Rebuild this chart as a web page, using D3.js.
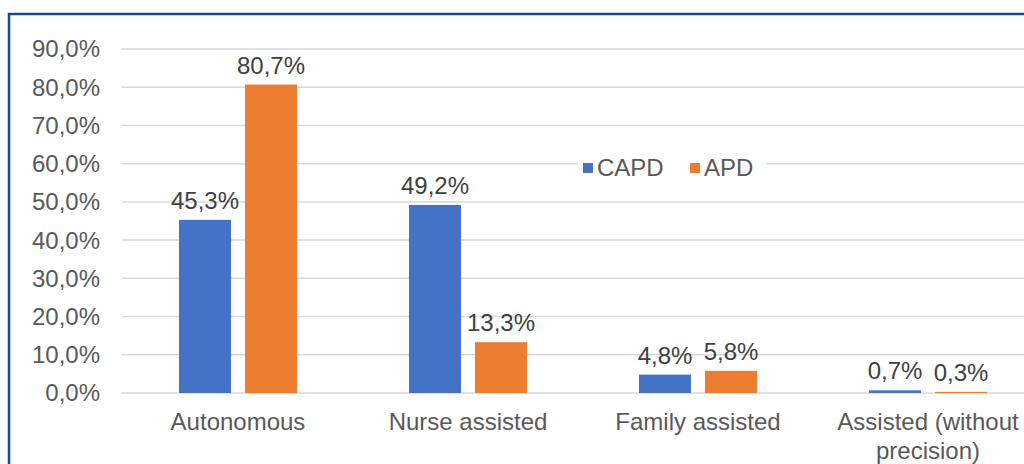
<!DOCTYPE html>
<html>
<head>
<meta charset="utf-8">
<script src="https://cdn.jsdelivr.net/npm/d3@7"></script>
<style>
  body { margin: 0; background: #fff; }
  svg { display: block; font-family: "Liberation Sans", Arial, sans-serif; }
</style>
</head>
<body>
<div id="chart"></div>
<script>
const categories = [["Autonomous"], ["Nurse assisted"], ["Family assisted"], ["Assisted (without", "precision)"]];
const seriesNames = ["CAPD", "APD"];
const capd = [45.3, 49.2, 4.8, 0.7];
const apd = [80.7, 13.3, 5.8, 0.3];
const yTicks = [0, 10, 20, 30, 40, 50, 60, 70, 80, 90];
const colors = ["#4472c4", "#ed7d31"];

const width = 1024, height = 464;
const fs = 24;
const fmt = v => v.toFixed(1).replace(".", ",") + "%";

const svg = d3.select("#chart").append("svg")
    .attr("width", width)
    .attr("height", height);

// outer frame
svg.append("rect")
    .attr("x", 9).attr("y", 14)
    .attr("width", 1040).attr("height", 480)
    .attr("fill", "none")
    .attr("stroke", "#134d8a")
    .attr("stroke-width", 2.5);

const y = d3.scaleLinear().domain([0, 90]).range([393, 49]);
const x = d3.scaleBand().domain(d3.range(categories.length)).range([123, 1043]);
const x1 = d3.scaleBand().domain(seriesNames).range([56, 174]).paddingInner(0.212);

// gridlines
svg.append("g").selectAll("line").data(yTicks).join("line")
    .attr("x1", 122).attr("x2", width)
    .attr("y1", d => y(d)).attr("y2", d => y(d))
    .attr("stroke", "#d9d9d9").attr("stroke-width", 1.5);

// y tick labels
svg.append("g").selectAll("text").data(yTicks).join("text")
    .attr("x", 100).attr("y", d => y(d))
    .attr("dy", "0.35em")
    .attr("text-anchor", "end")
    .attr("font-size", fs)
    .attr("fill", "#595959")
    .text(d => fmt(d));

const rows = categories.map((c, i) => ({ i, values: [capd[i], apd[i]] }));

const groups = svg.append("g").selectAll("g").data(rows).join("g")
    .attr("transform", d => `translate(${x(d.i)},0)`);

groups.selectAll("rect").data(d => d.values.map((v, k) => ({ k, v }))).join("rect")
    .attr("x", d => x1(seriesNames[d.k]))
    .attr("width", x1.bandwidth())
    .attr("y", d => y(d.v))
    .attr("height", d => Math.max(y(0) - y(d.v), 0))
    .attr("fill", d => colors[d.k]);

groups.selectAll("text").data(d => d.values.map((v, k) => ({ k, v }))).join("text")
    .attr("x", d => x1(seriesNames[d.k]) + x1.bandwidth() / 2)
    .attr("y", d => y(d.v) - 11)
    .attr("text-anchor", "middle")
    .attr("font-size", fs)
    .attr("fill", "#404040")
    .text(d => fmt(d.v));

// category labels
const cat = svg.append("g").selectAll("text").data(categories).join("text")
    .attr("x", (d, i) => x(i) + x.bandwidth() / 2)
    .attr("y", 430)
    .attr("text-anchor", "middle")
    .attr("font-size", fs)
    .attr("fill", "#595959");
cat.selectAll("tspan").data(d => d).join("tspan")
    .attr("x", function() { return this.parentNode.getAttribute("x"); })
    .attr("dy", (d, j) => j === 0 ? 0 : 29)
    .text(d => d);

// legend
const legend = svg.append("g").attr("transform", "translate(578,168)");
legend.append("rect").attr("x", 0).attr("y", -16).attr("width", 188).attr("height", 32).attr("fill", "#fff");
const items = [{ name: "CAPD", x: 5 }, { name: "APD", x: 112 }];
items.forEach((it, k) => {
    legend.append("rect")
        .attr("x", it.x).attr("y", -5)
        .attr("width", 10).attr("height", 10)
        .attr("fill", colors[k]);
    legend.append("text")
        .attr("x", it.x + 14).attr("y", 0)
        .attr("dy", "0.35em")
        .attr("font-size", fs)
        .attr("fill", "#595959")
        .text(it.name);
});
</script>
</body>
</html>
